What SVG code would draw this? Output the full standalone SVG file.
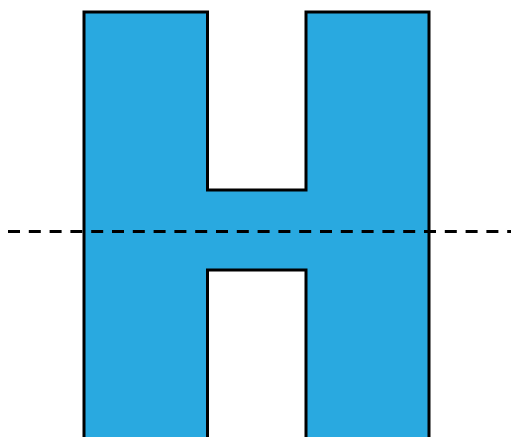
<svg xmlns="http://www.w3.org/2000/svg" width="511" height="437" viewBox="0 0 511 437">
<style>
.h{fill:#29a9e0;stroke:#000;stroke-width:3;stroke-linejoin:miter}
.axis{stroke:#000;stroke-width:3;stroke-dasharray:12 8.8;fill:none}
</style>
<rect width="511" height="437" fill="#fff"/>
<g id="letter-h">
<path class="h" d="M84,12 H207.5 V190 H306 V12 H429 V445 H306 V270 H207.5 V445 H84 Z"/>
</g>
<g id="connectors">
<line class="axis" x1="8" y1="231.5" x2="511" y2="231.5"/>
</g>
</svg>
